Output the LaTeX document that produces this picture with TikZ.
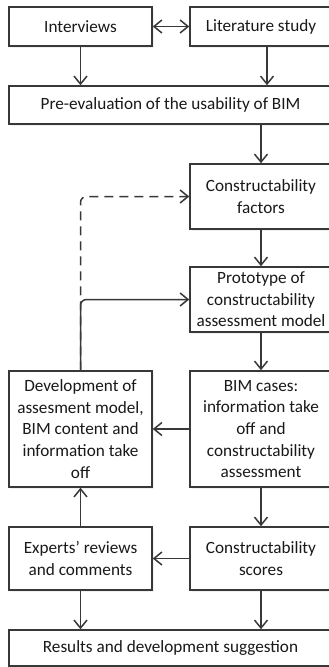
\documentclass[tikz,border=0pt]{standalone}
\usepackage{fontspec}
\setmainfont{Carlito}
\usepackage{tikz}
\usetikzlibrary{arrows.meta}
\usetikzlibrary{shadows}

\begin{document}
\begin{tikzpicture}[x=1pt, y=-1pt,
 box/.style={draw=black!78, line width=1.5pt, fill=white, align=center, inner sep=0pt,
  font=\fontsize{17.2}{21.6}\selectfont, text=black!90,
  drop shadow={shadow xshift=1.5pt, shadow yshift=-1.5pt, opacity=0.12}},
 conn/.style={draw=black!78, line width=1.5pt, -{Straight Barb[length=8pt, width=13pt]}}]
\useasboundingbox (0,0) rectangle (329,667);
\clip (0,0) rectangle (329,667);

\node[box, minimum width=143pt, minimum height=39pt] (interviews) at (80.5,26.5) {Interviews};
\node[box, minimum width=142pt, minimum height=39pt] (litstudy) at (261,26.5) {Literature study};
\node[box, minimum width=323pt, minimum height=38pt] (preeval) at (170.5,105) {Pre-evaluation of the usability of BIM};
\node[box, minimum width=142pt, minimum height=65pt] (factors) at (261,196.5) {Constructability\\factors};
\node[box, minimum width=142pt, minimum height=65pt] (prototype) at (261,299.5) {Prototype of\\constructability\\assessment model};
\node[box, minimum width=142pt, minimum height=116pt] (bimcases) at (261,429) {BIM cases:\\information take\\off and\\constructability\\assessment};
\node[box, minimum width=143pt, minimum height=116pt] (development) at (80.5,429) {Development of\\assesment model,\\BIM content and\\information take\\off};
\node[box, minimum width=142pt, minimum height=63pt] (scores) at (261,558.5) {Constructability\\scores};
\node[box, minimum width=143pt, minimum height=63pt] (experts) at (80.5,558.5) {Experts’ reviews\\and comments};
\node[box, minimum width=323pt, minimum height=36pt] (results) at (170.5,648) {Results and development suggestion};

\draw[conn, {Straight Barb[length=8pt, width=13pt]}-{Straight Barb[length=8pt, width=13pt]}] (interviews) -- (litstudy);
\draw[conn] (interviews) -- (interviews.south |- preeval.north);
\draw[conn] ([xshift=6pt]litstudy.south) -- ([xshift=6pt]litstudy.south |- preeval.north);
\draw[conn] (preeval.south -| factors.north) -- (factors);
\draw[conn] (factors) -- (prototype);
\draw[conn] (prototype) -- (bimcases);
\draw[conn] (bimcases) -- (development);
\draw[conn] (bimcases) -- (scores);
\draw[conn] (scores) -- (experts);
\draw[conn] (experts) -- (development);
\draw[conn] (experts) -- (experts.south |- results.north);
\draw[conn] (scores) -- (scores.south |- results.north);

\draw[conn, rounded corners=6pt] (development.north) |- (prototype.west);
\draw[conn, rounded corners=6pt, dash pattern=on 9pt off 6pt] (development.north) |- (factors.west);

\end{tikzpicture}
\end{document}
